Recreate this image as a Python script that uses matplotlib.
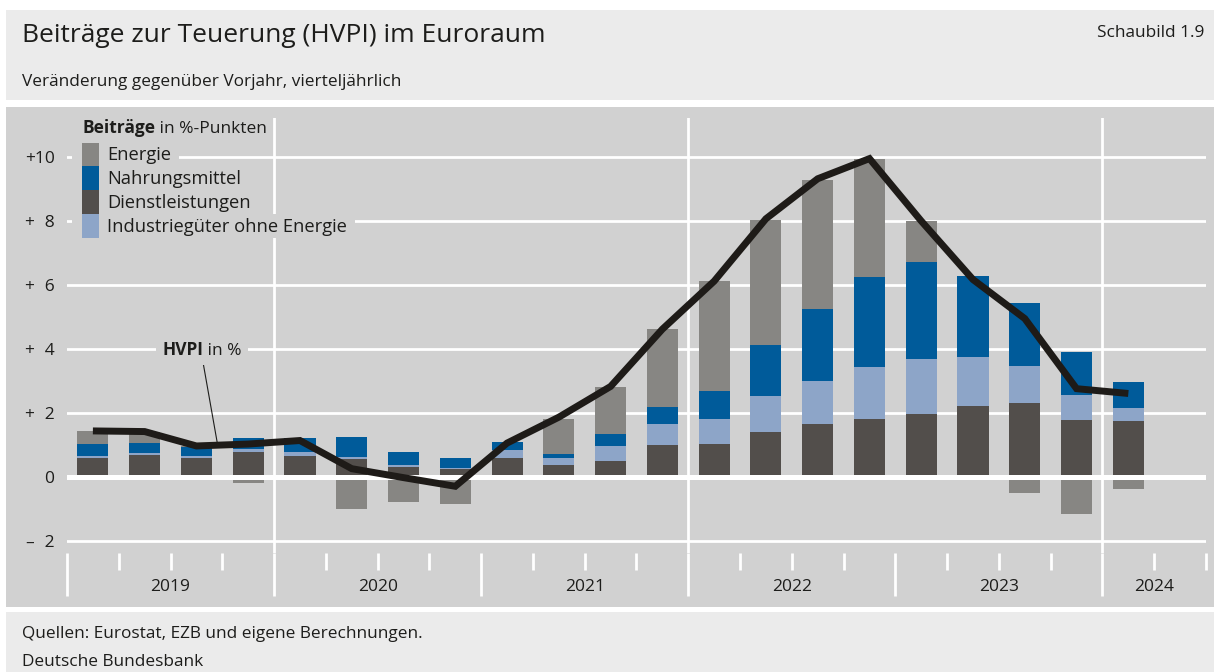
import numpy as np
import matplotlib.pyplot as plt
import matplotlib.transforms as mtransforms
from matplotlib.patches import Rectangle, Patch

plt.rcParams['font.family'] = ['Open Sans', 'DejaVu Sans']

# quarterly contributions in %-points, 2019 Q1 .. 2024 Q1
dienst = [0.60, 0.69, 0.59, 0.77, 0.66, 0.56, 0.31, 0.25,
          0.58, 0.36, 0.49, 1.01, 1.04, 1.42, 1.67, 1.80,
          1.97, 2.22, 2.30, 1.79, 1.74]
industrie = [0.06, 0.07, 0.08, 0.09, 0.13, 0.05, 0.08, 0.03,
             0.25, 0.22, 0.47, 0.66, 0.76, 1.10, 1.32, 1.64,
             1.73, 1.52, 1.18, 0.78, 0.42]
nahrung = [0.38, 0.29, 0.26, 0.35, 0.42, 0.64, 0.38, 0.30,
           0.26, 0.15, 0.38, 0.53, 0.90, 1.59, 2.25, 2.81,
           3.03, 2.53, 1.97, 1.34, 0.81]
energie = [0.39, 0.35, 0.05, -0.19, 0.0, -1.01, -0.79, -0.83,
           0.0, 1.09, 1.47, 2.43, 3.43, 3.91, 4.03, 3.68,
           1.26, 0.0, -0.49, -1.17, -0.36]
hvpi = [1.44, 1.42, 0.97, 1.03, 1.14, 0.26, -0.02, -0.29,
        1.06, 1.87, 2.83, 4.62, 6.12, 8.07, 9.32, 9.95,
        8.00, 6.17, 4.95, 2.76, 2.61]
years = ['2019', '2020', '2021', '2022', '2023', '2024']
yticks = [-2, 0, 2, 4, 6, 8, 10]
yticklabels = ['\u2013\u20072', '0', '+\u20072', '+\u20074', '+\u20076', '+\u20078', '+10']

c_energie = '#878683'
c_nahrung = '#005b9a'
c_dienst = '#524e4b'
c_industrie = '#8da5c8'
c_line = '#1e1b18'
panel = '#d1d1d1'
band = '#ebebeb'
txt = '#1d1d1b'

W, H = 1214, 672
fig = plt.figure(figsize=(W / 100, H / 100), dpi=100, facecolor='white')

# background bands
fig.add_artist(Rectangle((6 / W, 1 - 100 / H), 1, 90 / H, transform=fig.transFigure,
                         facecolor=band, edgecolor='none', zorder=-10))
fig.add_artist(Rectangle((6 / W, 1 - 607 / H), 1, 500 / H, transform=fig.transFigure,
                         facecolor=panel, edgecolor='none', zorder=-10))
fig.add_artist(Rectangle((6 / W, 0), 1, 60 / H, transform=fig.transFigure,
                         facecolor=band, edgecolor='none', zorder=-10))

fig.text(22 / W, 1 - 36 / H, 'Beiträge zur Teuerung (HVPI) im Euroraum',
         fontsize=19, weight=500, color=txt, va='center')
fig.text(1204 / W, 1 - 33 / H, 'Schaubild 1.9', fontsize=12.4, color=txt,
         va='center', ha='right')
fig.text(22 / W, 1 - 82 / H, 'Veränderung gegenüber Vorjahr, vierteljährlich',
         fontsize=12.4, color=txt, va='center')
fig.text(22 / W, 1 - 634 / H, 'Quellen: Eurostat, EZB und eigene Berechnungen.',
         fontsize=12.4, color=txt, va='center')
fig.text(22 / W, 1 - 662 / H, 'Deutsche Bundesbank', fontsize=12.4, color=txt, va='center')

ax = fig.add_axes([67 / W, 1 - 553 / H, 1139 / W, (553 - 118) / H])
ax.set_facecolor('none')
for s in ax.spines.values():
    s.set_visible(False)

x = np.arange(len(hvpi))
d = np.array(dienst)
i = np.array(industrie)
n = np.array(nahrung)
e = np.array(energie)
width = 0.6

ax.bar(x, d, width, color=c_dienst, zorder=2)
ax.bar(x, i, width, bottom=d, color=c_industrie, zorder=2)
ax.bar(x, n, width, bottom=d + i, color=c_nahrung, zorder=2)
ax.bar(x, e, width, bottom=np.where(e > 0, d + i + n, 0), color=c_energie, zorder=2)
ax.axhline(0, color='white', lw=3.6, zorder=2.5)
ax.plot(x, hvpi, color=c_line, lw=5, solid_joinstyle='miter', solid_capstyle='butt', zorder=4)

ax.set_xlim(-0.5, len(hvpi) + 0.5)
ax.set_ylim(-(553 - 477) / 32, (477 - 118) / 32)

ax.set_yticks(yticks)
ax.set_yticklabels(yticklabels)
ax.set_axisbelow(True)
ax.yaxis.grid(True, color='white', lw=2)
ax.tick_params(axis='y', length=0, pad=9, labelsize=12.5, labelcolor=txt)

bounds = [-0.5 + 4 * k for k in range(len(years))] + [len(hvpi) + 0.5]
ax.set_xticks(bounds[:-1])
ax.set_xticklabels([])
ax.set_xticks(np.arange(-0.5, len(hvpi) + 1, 1), minor=True)
ax.tick_params(axis='x', which='major', length=31, width=2, color='white', direction='out')
ax.tick_params(axis='x', which='minor', length=12, width=2, color='white', direction='out')
for b in bounds[1::2]:
    ax.axvline(b, color='white', lw=2, zorder=0.6)

trans = mtransforms.blended_transform_factory(ax.transData, fig.transFigure)
for k, yr in enumerate(years):
    ax.text((bounds[k] + bounds[k + 1]) / 2, 1 - 587 / H, yr, transform=trans,
            ha='center', va='center', fontsize=12.5, color=txt)

# legend
handles = [Patch(facecolor=c_energie, label='Energie'),
           Patch(facecolor=c_nahrung, label='Nahrungsmittel'),
           Patch(facecolor=c_dienst, label='Dienstleistungen'),
           Patch(facecolor=c_industrie, label='Industriegüter ohne Energie')]
leg = ax.legend(handles=handles, loc='upper left', bbox_to_anchor=(82 / W, 1 - 142 / H),
                bbox_transform=fig.transFigure, frameon=False, fontsize=13.2,
                handlelength=0.925, handleheight=1.637, handletextpad=0.44,
                labelspacing=0, borderpad=0, borderaxespad=0)
for t in leg.get_texts():
    t.set_color(txt)

mask = dict(boxstyle='square,pad=0.35', facecolor=panel, edgecolor='none')
t1 = ax.text(82 / W, 1 - 128 / H, 'Beiträge', transform=fig.transFigure, fontsize=12.5,
             weight='bold', color=txt, va='center', bbox=mask, zorder=6)
ax.annotate(' in %-Punkten', xy=(1, 0), xycoords=t1, va='bottom', fontsize=12.5,
            color=txt, bbox=mask, zorder=5)

t2 = ax.text(1.335, 3.97, 'HVPI', fontsize=12.5, weight='bold', color=txt,
             va='center', bbox=mask, zorder=6)
ax.annotate(' in %', xy=(1, 0), xycoords=t2, va='bottom', fontsize=12.5,
            color=txt, bbox=mask, zorder=5)
ax.annotate('', xy=(2.40, 1.09), xytext=(2.13, 3.56),
            arrowprops=dict(arrowstyle='-', lw=0.8, color=txt, shrinkA=0, shrinkB=0))

# hide grid lines behind each legend row
fig.canvas.draw()
inv = fig.transFigure.inverted()
for h, t in zip(leg.legend_handles, leg.get_texts()):
    hb = h.get_window_extent()
    tb = t.get_window_extent()
    (fx0, fy0), (fx1, fy1) = inv.transform([(hb.x0 - 10, hb.y0), (tb.x1 + 8, hb.y1)])
    ax.add_patch(Rectangle((fx0, fy0), fx1 - fx0, fy1 - fy0, transform=fig.transFigure,
                           facecolor=panel, edgecolor='none', zorder=1, clip_on=False))

plt.savefig('out.png', dpi=100)
